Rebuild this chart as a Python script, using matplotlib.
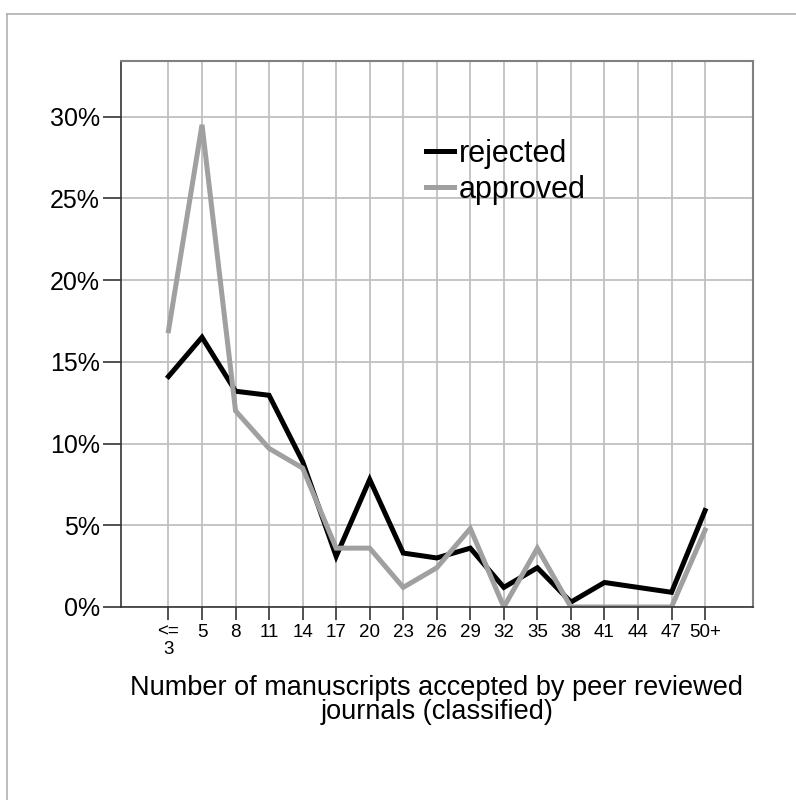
import numpy as np
import matplotlib
matplotlib.use("Agg")
import matplotlib.pyplot as plt
from matplotlib.lines import Line2D
from matplotlib.ticker import FuncFormatter

plt.rcParams['font.family'] = ['Liberation Sans', 'DejaVu Sans']

# categories on the x axis
categories = ['<=\n3', '5', '8', '11', '14', '17', '20', '23', '26',
              '29', '32', '35', '38', '41', '44', '47', '50+']

# percentage of manuscripts per class
rejected = [14.1, 16.5, 13.2, 12.95, 8.9, 3.1, 7.8, 3.3, 3.0,
            3.6, 1.2, 2.4, 0.3, 1.5, 1.2, 0.9, 5.9]
approved = [16.9, 29.5, 12.0, 9.7, 8.5, 3.6, 3.6, 1.2, 2.4,
            4.8, 0.0, 3.6, 0.0, 0.0, 0.0, 0.0, 4.7]

yticks = [0, 5, 10, 15, 20, 25, 30]

fig = plt.figure(figsize=(7.96, 8.0), dpi=100)
ax = fig.add_axes([0.1514, 0.24125, 0.7946, 0.6825])

x = np.arange(len(categories))

# griglia
ax.set_axisbelow(True)
ax.grid(True, color='#c0c0c0', lw=1.3)

ax.plot(x, rejected, color='black', lw=3.6, label='rejected', solid_joinstyle='miter')
ax.plot(x, approved, color='#a0a0a0', lw=3.6, label='approved', solid_joinstyle='miter')

ax.set_xlim(-1.43, len(categories) - 1 + 1.43)
ax.set_ylim(0, 33.4)
ax.set_xticks(x)
ax.set_xticklabels(categories, fontsize=13.5, linespacing=1.05)
ax.set_yticks(yticks)
ax.yaxis.set_major_formatter(FuncFormatter(lambda v, p: '%d%%' % v))
ax.tick_params(axis='y', labelsize=18, length=13, width=1.2, color='#333333', pad=2)
ax.tick_params(axis='x', length=9, width=1.2, color='#333333', pad=3)

for side in ['left', 'bottom']:
    ax.spines[side].set_color('#333333')
    ax.spines[side].set_linewidth(1.2)
for side in ['top', 'right']:
    ax.spines[side].set_color('#808080')
    ax.spines[side].set_linewidth(1.5)

ax.set_xlabel('Number of manuscripts accepted by peer reviewed\njournals (classified)',
              fontsize=19.5, linespacing=0.92, labelpad=12)

ax.legend(loc='upper left', bbox_to_anchor=(0.483, 0.858), frameon=False,
          fontsize=22, handlelength=0.92, handletextpad=0.16, labelspacing=0.2,
          borderpad=0, borderaxespad=0)

# cornice esterna (solo sopra e a sinistra)
fig.add_artist(Line2D([7 / 796, 1], [1 - 14 / 800, 1 - 14 / 800], color='#b0b0b0', lw=1.2))
fig.add_artist(Line2D([7 / 796, 7 / 796], [0, 1 - 14 / 800], color='#b0b0b0', lw=1.2))

fig.savefig('out.png', dpi=100)
